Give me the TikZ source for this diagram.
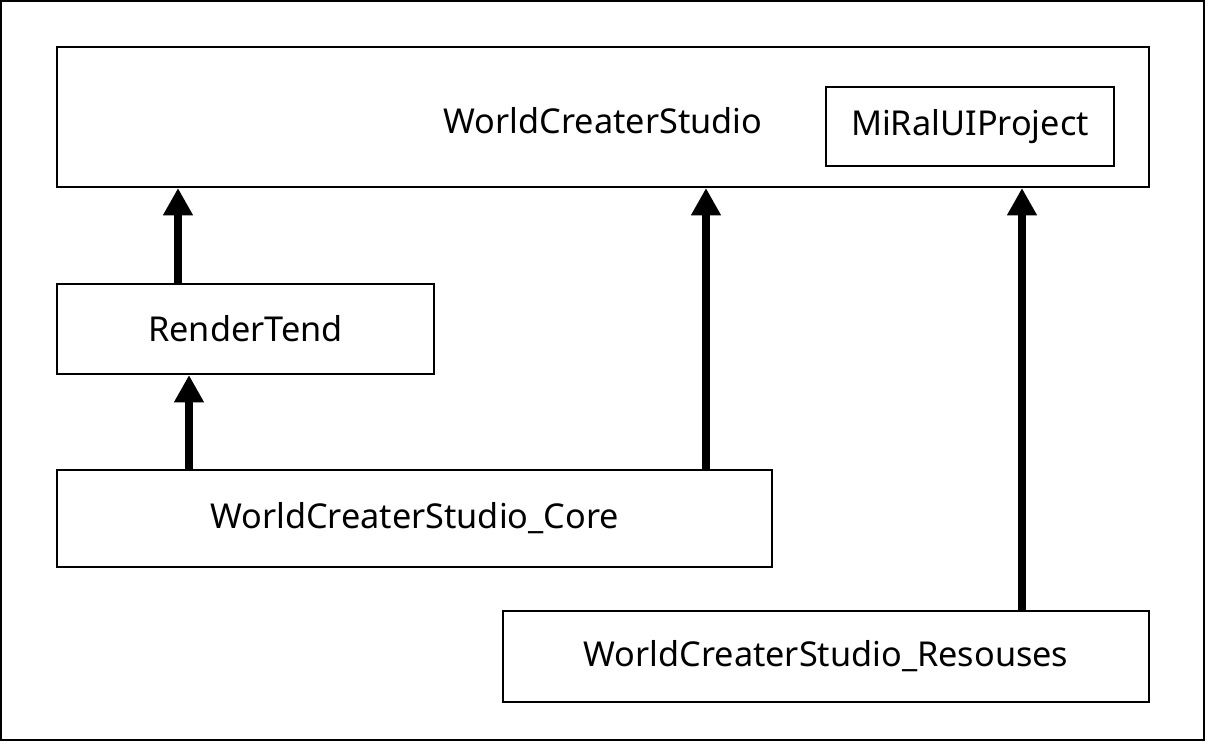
\documentclass[tikz,border=0pt]{standalone}
\usepackage{fontspec}
\setmainfont{Noto Sans}
\usetikzlibrary{arrows.meta, positioning, calc}

\tikzset{
    box/.style={draw, line width=1.2pt, rectangle, inner sep=0pt, font=\fontsize{19.5}{22}\selectfont},
    dep/.style={line width=4.5pt, -{Triangle[length=15.5pt, width=16pt]}}
}

\begin{document}
\begin{tikzpicture}[x=0.02cm, y=-0.02cm]
    % Frame
    \useasboundingbox (0,0) rectangle (1205,741);
    \draw[line width=1.5pt] (1,1) rectangle (1204,740);

    % Modules
    \node[box, minimum width=1092*0.02cm, minimum height=140*0.02cm] (studio) at (603,117) {};
    \node[font=\fontsize{19.5}{22}\selectfont] (studiolbl) at (603,121) {WorldCreaterStudio};
    \node[box, minimum width=288*0.02cm, minimum height=79*0.02cm] (miral) at (970,126.5) {MiRalUIProject};
    \node[box, minimum width=377*0.02cm, minimum height=90*0.02cm] (render) at (245.5,329) {RenderTend};
    \node[box, minimum width=715*0.02cm, minimum height=97*0.02cm] (core) at (414.5,518.5) {WorldCreaterStudio\_Core};
    \node[box, minimum width=646*0.02cm, minimum height=91*0.02cm] (res) at (826,656.5) {WorldCreaterStudio\_Resouses};

    % Dependencies
    \draw[dep] (render.north -| 178,0) -- (studio.south -| 178,0);
    \draw[dep] (core.north -| 189,0) -- (render.south -| 189,0);
    \draw[dep] (core.north -| 706,0) -- (studio.south -| 706,0);
    \draw[dep] (res.north -| 1022,0) -- (studio.south -| 1022,0);
\end{tikzpicture}
\end{document}
